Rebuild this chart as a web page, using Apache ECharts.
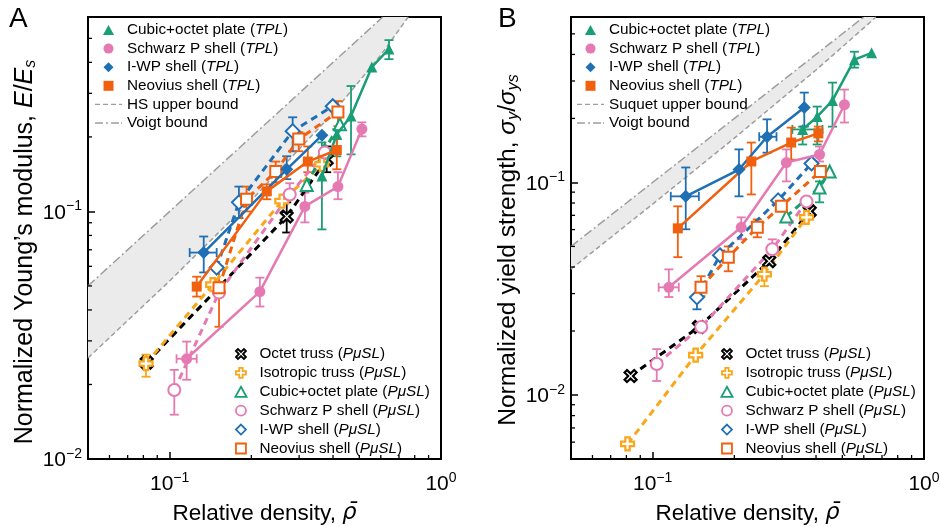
<!DOCTYPE html>
<html><head><meta charset="utf-8">
<script src="https://cdn.jsdelivr.net/npm/echarts@6/dist/echarts.min.js"></script>
<style>html,body{margin:0;padding:0;background:#fff}#c{width:940px;height:527px}</style>
</head><body><div id="c"></div>
<script>
// ---------- Panel A: normalized Young's modulus ----------
// TPL (filled, solid lines)  [relative density, E/Es]
const aCubicT = [[0.364,0.139],[0.413,0.205],[0.466,0.243],[0.556,0.383],[0.643,0.453]];
const aSchT   = [[0.1155,0.0254],[0.215,0.0474],[0.315,0.1048],[0.417,0.126],[0.511,0.215]];
const aIwpT   = [[0.1335,0.0682],[0.270,0.148],[0.364,0.203]];
const aNeoT   = [[0.1258,0.0497],[0.228,0.1205],[0.323,0.159],[0.413,0.177]];
// PuSL (hollow, dashed lines)
const aOctetP = [[0.0823,0.0245],[0.270,0.0954],[0.379,0.162]];
const aIsoP   = [[0.0818,0.0243],[0.144,0.0506],[0.259,0.110],[0.364,0.155]];
const aCubicP = [[0.320,0.128],[0.373,0.178],[0.424,0.225]];
const aSchP   = [[0.104,0.0190],[0.152,0.047],[0.277,0.117],[0.373,0.173]];
const aIwpP   = [[0.149,0.0593],[0.180,0.1088],[0.284,0.211],[0.399,0.266]];
const aNeoP   = [[0.152,0.0492],[0.192,0.112],[0.246,0.145],[0.299,0.196],[0.417,0.252]];
// error bars [x, y, yLow, yHigh, xLow, xHigh] (0 = none)
const aCubicTErr = [[0.364,0.139,0.0846,0.19,0,0],[0.413,0.205,0.167,0.215,0,0],[0.466,0.243,0.170,0.321,0,0],[0.643,0.453,0.412,0.492,0,0]];
const aSchTErr = [[0.1155,0.0254,0.0209,0.0298,0.106,0.1258],[0.215,0.0474,0.0413,0.054,0,0],[0.315,0.1048,0.0903,0.119,0,0],[0.417,0.126,0.112,0.144,0,0],[0.511,0.215,0.201,0.229,0,0]];
const aIwpTErr = [[0.1335,0.0682,0.0567,0.0792,0.1185,0.149],[0.270,0.148,0.135,0.167,0,0]];
const aNeoTErr = [[0.1258,0.0497,0.0453,0.0545,0,0],[0.228,0.1205,0.112,0.1286,0,0],[0.323,0.159,0.144,0.183,0,0],[0.413,0.177,0.148,0.196,0,0]];
const aOctetPErr = [[0.270,0.0954,0.0822,0.1088,0,0],[0.379,0.162,0.144,0.183,0,0]];
const aIsoPErr = [[0.0818,0.0243,0.0215,0.0264,0,0]];
const aSchPErr = [[0.104,0.0190,0.0151,0.0229,0,0],[0.277,0.117,0.112,0.130,0,0]];
const aIwpPErr = [[0.180,0.1088,0.094,0.126,0,0],[0.284,0.211,0.175,0.240,0,0]];
const aNeoPErr = [[0.152,0.0492,0.0342,0.06,0,0],[0.192,0.112,0.1,0.126,0,0],[0.246,0.145,0.131,0.159,0,0],[0.299,0.196,0.175,0.209,0,0],[0.417,0.252,0.221,0.279,0,0]];
// bounds
const aVoigt = [[0.05,0.05],[0.61,0.61]];
const aHS = [[0.05,0.0256],[0.1,0.0524],[0.2,0.111],[0.4,0.250],[0.6,0.428],[0.757,0.61]];

// ---------- Panel B: normalized yield strength ----------
const bCubicT = [[0.357,0.1775],[0.404,0.204],[0.460,0.243],[0.554,0.378],[0.641,0.407]];
const bSchT   = [[0.1147,0.0321],[0.212,0.0615],[0.311,0.124],[0.412,0.1353],[0.509,0.232]];
const bIwpT   = [[0.1324,0.086],[0.208,0.115],[0.264,0.164],[0.362,0.225]];
const bNeoT   = [[0.1238,0.0608],[0.231,0.1255],[0.324,0.154],[0.408,0.170]];
const bOctetP = [[0.0829,0.01228],[0.148,0.0209],[0.269,0.0426],[0.379,0.0731]];
const bIsoP   = [[0.0808,0.00589],[0.144,0.0154],[0.258,0.0370],[0.369,0.0685]];
const bCubicP = [[0.311,0.0692],[0.412,0.0947],[0.449,0.1126]];
const bSchP   = [[0.1035,0.0140],[0.151,0.0209],[0.276,0.0485],[0.369,0.0814]];
const bIwpP   = [[0.1456,0.0288],[0.177,0.0454],[0.290,0.0823],[0.385,0.1228]];
const bNeoP   = [[0.1507,0.0321],[0.190,0.0445],[0.243,0.0615],[0.298,0.0772],[0.415,0.1126]];
const bCubicTErr = [[0.357,0.1775,0.1508,0.183,0.3272,0.4227],[0.404,0.204,0.1508,0.2274,0,0],[0.460,0.243,0.183,0.2948,0,0],[0.554,0.378,0.3467,0.412,0,0]];
const bSchTErr = [[0.1147,0.0321,0.0289,0.039,0.1052,0.1248],[0.212,0.0615,0.054,0.0685,0,0],[0.311,0.124,0.1011,0.143,0,0],[0.412,0.1353,0.1255,0.1476,0,0],[0.509,0.232,0.1913,0.2733,0,0]];
const bIwpTErr = [[0.1324,0.086,0.0602,0.1176,0.1166,0.148],[0.208,0.115,0.086,0.143,0,0],[0.264,0.164,0.138,0.198,0.247,0.286],[0.362,0.225,0.183,0.2646,0,0]];
const bNeoTErr = [[0.1238,0.0608,0.0445,0.0772,0,0],[0.231,0.1255,0.0878,0.154,0,0],[0.324,0.154,0.128,0.181,0,0],[0.408,0.17,0.156,0.183,0,0]];
const bIsoPErr = [[0.258,0.037,0.0325,0.039,0,0]];
const bCubicPErr = [[0.412,0.0947,0.0806,0.1011,0,0]];
const bSchPErr = [[0.1035,0.014,0.01164,0.01644,0,0],[0.276,0.0485,0.0469,0.054,0,0]];
const bIwpPErr = [[0.1456,0.0288,0.0253,0.0288,0,0]];
const bNeoPErr = [[0.1507,0.0321,0.0292,0.0362,0,0],[0.190,0.0445,0.0382,0.05,0,0],[0.243,0.0615,0.0552,0.067,0,0]];
const bVoigt = [[0.05,0.05],[0.6,0.6]];
const bSuquet = [[0.05,0.0391],[0.1,0.0791],[0.2,0.1615],[0.4,0.338],[0.6,0.533],[0.665,0.6]];

// tick positions
const xMinorTicks = [0.06,0.07,0.08,0.09,0.2,0.3,0.4,0.5,0.6,0.7,0.8,0.9];
const aYMinorTicks = [0.02,0.03,0.04,0.05,0.06,0.07,0.08,0.09,0.2,0.3,0.4,0.5];
const bYMinorTicks = [0.006,0.007,0.008,0.009,0.02,0.03,0.04,0.05,0.06,0.07,0.08,0.09,0.2,0.3,0.4,0.5];

// legend names
const nCubicT='Cubic+octet plate (TPL)', nSchT='Schwarz P shell (TPL)', nIwpT='I-WP shell (TPL)', nNeoT='Neovius shell (TPL)';
const nOctetP='Octet truss (P\u03bcSL)', nIsoP='Isotropic truss (P\u03bcSL)', nCubicP='Cubic+octet plate (P\u03bcSL)', nSchP='Schwarz P shell (P\u03bcSL)', nIwpP='I-WP shell (P\u03bcSL)', nNeoP='Neovius shell (P\u03bcSL)';

const FONT = "'Liberation Sans', Arial, Helvetica, sans-serif";
const C = {green:'#1a9e76', pink:'#e57ab3', blue:'#1f6fb4', orange:'#f0600f', yellow:'#f9a61a', black:'#000000', bound:'#9e9e9e'};
const XPATH = 'path://M0,2L2,0L5,3L8,0L10,2L7,5L10,8L8,10L5,7L2,10L0,8L3,5Z';
const PPATH = 'path://M3.3,0L6.7,0L6.7,3.3L10,3.3L10,6.7L6.7,6.7L6.7,10L3.3,10L3.3,6.7L0,6.7L0,3.3L3.3,3.3Z';
const ICON = {
  triangle:'path://M5,0L10,9L0,9Z',
  circle:'path://M5,0A5,5,0,1,1,5,10A5,5,0,1,1,5,0Z',
  diamond:'path://M5,0L10,5L5,10L0,5Z',
  rect:'path://M0,0L10,0L10,10L0,10Z',
  dash:'path://M0,0L5,0L5,1.4L0,1.4Z M8,0L13,0L13,1.4L8,1.4Z M16,0L21,0L21,1.4L16,1.4Z M24,0L27,0L27,1.4L24,1.4Z',
  dashdot:'path://M0,0L8,0L8,1.4L0,1.4Z M11,0L13,0L13,1.4L11,1.4Z M16,0L24,0L24,1.4L16,1.4Z M26,0L27,0L27,1.4L26,1.4Z'
};

const styles = {};
styles[nCubicT] = {c:C.green, sym:'triangle', icon:ICON.triangle, size:11, hollow:false};
styles[nSchT]   = {c:C.pink, sym:'circle', icon:ICON.circle, size:11, hollow:false};
styles[nIwpT]   = {c:C.blue, sym:'diamond', icon:ICON.diamond, size:13, hollow:false};
styles[nNeoT]   = {c:C.orange, sym:'rect', icon:ICON.rect, size:10, hollow:false};
styles[nOctetP] = {c:C.black, sym:XPATH, icon:XPATH, size:12, hollow:true, path:true};
styles[nIsoP]   = {c:C.yellow, sym:PPATH, icon:PPATH, size:13, hollow:true, path:true};
styles[nCubicP] = {c:C.green, sym:'emptyTriangle', icon:ICON.triangle, size:12, hollow:true};
styles[nSchP]   = {c:C.pink, sym:'emptyCircle', icon:ICON.circle, size:12, hollow:true};
styles[nIwpP]   = {c:C.blue, sym:'emptyDiamond', icon:ICON.diamond, size:14, hollow:true};
styles[nNeoP]   = {c:C.orange, sym:'emptyRect', icon:ICON.rect, size:11, hollow:true};

function dataSeries(name, data, gi) {
  const s = styles[name];
  return {
    type:'line', name, xAxisIndex:gi, yAxisIndex:gi, data,
    symbol:s.sym, symbolSize:s.size, showSymbol:true, symbolKeepAspect:true,
    lineStyle:{color:s.c, width: s.hollow ? 3 : 2.5, type: s.hollow ? [7,5] : 'solid'},
    itemStyle: s.path ? {color:'#ffffff', borderColor:s.c, borderWidth:2.2} : (s.hollow ? {color:s.c, borderWidth:2.2} : {color:s.c}),
    emphasis:{disabled:true}, z: s.hollow ? 4 : 5, animation:false
  };
}
function errSeries(rows, gi, color) {
  return {
    type:'custom', xAxisIndex:gi, yAxisIndex:gi, data:rows, encode:{x:0,y:1}, silent:true, z:3,
    renderItem(p, api) {
      const x=api.value(0), y=api.value(1), yl=api.value(2), yh=api.value(3), xl=api.value(4), xh=api.value(5);
      const st = {stroke:color, lineWidth:1.8};
      const ch = []; const cap = 4.5;
      if (yl > 0 && yh > 0) {
        const a = api.coord([x,yl]), b = api.coord([x,yh]);
        ch.push({type:'line', shape:{x1:a[0],y1:a[1],x2:b[0],y2:b[1]}, style:st});
        ch.push({type:'line', shape:{x1:a[0]-cap,y1:a[1],x2:a[0]+cap,y2:a[1]}, style:st});
        ch.push({type:'line', shape:{x1:b[0]-cap,y1:b[1],x2:b[0]+cap,y2:b[1]}, style:st});
      }
      if (xl > 0 && xh > 0) {
        const a = api.coord([xl,y]), b = api.coord([xh,y]);
        ch.push({type:'line', shape:{x1:a[0],y1:a[1],x2:b[0],y2:b[1]}, style:st});
        ch.push({type:'line', shape:{x1:a[0],y1:a[1]-cap,x2:a[0],y2:a[1]+cap}, style:st});
        ch.push({type:'line', shape:{x1:b[0],y1:b[1]-cap,x2:b[0],y2:b[1]+cap}, style:st});
      }
      return {type:'group', children:ch};
    }
  };
}
function boundLine(name, data, gi, dash) {
  return {type:'line', name, xAxisIndex:gi, yAxisIndex:gi, data, symbol:'none', silent:true,
    lineStyle:{color:C.bound, width:1.5, type:dash}, itemStyle:{color:C.bound}, z:2, animation:false};
}
function bandSeries(gi, upper, lower) {
  return {type:'custom', xAxisIndex:gi, yAxisIndex:gi, data:[[0.1,0.1]], encode:{x:0,y:1}, silent:true, z:1,
    renderItem(p, api) {
      const pts = upper.map(d => api.coord(d)).concat(lower.slice().reverse().map(d => api.coord(d)));
      return {type:'polygon', shape:{points:pts}, style:{fill:'#ebebeb'}};
    }};
}
function tickSeries(gi, xs, ys, x0, y0) {
  return {type:'custom', xAxisIndex:gi, yAxisIndex:gi, data:[[0.1,0.1]], encode:{x:0,y:1}, silent:true, z:20,
    renderItem(p, api) {
      const ch = []; const st = {stroke:'#000', lineWidth:1.3};
      xs.forEach(v => { const pt = api.coord([v,y0]); ch.push({type:'line', shape:{x1:pt[0],y1:pt[1],x2:pt[0],y2:pt[1]-4}, style:st}); });
      ys.forEach(v => { const pt = api.coord([x0,v]); ch.push({type:'line', shape:{x1:pt[0],y1:pt[1],x2:pt[0]+4,y2:pt[1]}, style:st}); });
      return {type:'group', children:ch};
    }};
}
function powLabel(v) {
  const e = Math.round(Math.log10(v));
  if (Math.abs(v / Math.pow(10, e) - 1) > 1e-6) return '';
  return '{b|10}{s|' + (e < 0 ? '\u2212' + (-e) : String(e)) + '}';
}
const tickRich = {
  b:{fontSize:21, fontFamily:FONT, color:'#000', lineHeight:24, verticalAlign:'bottom'},
  s:{fontSize:14, fontFamily:FONT, color:'#000', lineHeight:8, verticalAlign:'top'}
};
function xAxisDef(gi) {
  return {type:'log', logBase:10, gridIndex:gi, min:0.05, max:1,
    axisLine:{show:true, onZero:false, lineStyle:{color:'#000', width:2}},
    axisTick:{show:true, inside:true, length:7, lineStyle:{color:'#000', width:1.5}},
    minorTick:{show:false}, splitLine:{show:false},
    axisLabel:{formatter:powLabel, rich:tickRich, margin:12, showMinLabel:true, showMaxLabel:true, hideOverlap:false},
    name:'{n|Relative density, }{i|\u03c1\u0304}', nameLocation:'middle', nameGap:43,
    nameTextStyle:{rich:{n:{fontSize:22.5, fontFamily:FONT, color:'#000'}, i:{fontSize:22.5, fontFamily:"'DejaVu Sans', sans-serif", fontStyle:'italic', color:'#000'}}}
  };
}
function yAxisDef(gi, min, max, name, gap, fs, shift) {
  return {type:'log', logBase:10, gridIndex:gi, min, max,
    axisLine:{show:true, onZero:false, lineStyle:{color:'#000', width:2}},
    axisTick:{show:true, inside:true, length:7, lineStyle:{color:'#000', width:1.5}},
    minorTick:{show:false}, splitLine:{show:false},
    axisLabel:{formatter:powLabel, rich:tickRich, margin:6, showMinLabel:true, showMaxLabel:true, hideOverlap:false},
    name, nameLocation:'middle', nameGap:gap, nameRotate:90,
    nameTextStyle:{padding:[0, shift, 0, 0], rich:{
      n:{fontSize:fs, fontFamily:FONT, color:'#000', lineHeight:28, verticalAlign:'middle'},
      i:{fontSize:fs, fontFamily:FONT, fontStyle:'italic', color:'#000', lineHeight:28, verticalAlign:'middle'},
      sub:{fontSize:16, fontFamily:FONT, fontStyle:'italic', color:'#000', lineHeight:14, verticalAlign:'bottom'}
    }}
  };
}
function legendItem(name) {
  const s = styles[name];
  if (s.hollow) return {name, icon:s.icon, itemStyle:{color:'#ffffff', borderColor:s.c, borderWidth:1.8}};
  return {name, icon:s.icon, itemStyle:{color:s.c, borderWidth:0}};
}
function legendDef(left, top, items, gap) {
  return {show:true, orient:'vertical', left, top, itemWidth:27, itemHeight:10, itemGap:gap, selectedMode:false, padding:0,
    symbolKeepAspect:true,
    data:items, textStyle:{fontSize:15.3, fontFamily:FONT, color:'#000', lineHeight:16,
      rich:{n:{fontSize:15.3, fontFamily:FONT, color:'#000'}, i:{fontSize:15.3, fontFamily:FONT, fontStyle:'italic', color:'#000'}}},
    formatter(name) {
      const m = name.match(/^(.*\()(.*)(\))$/);
      if (m) return '{n|' + m[1] + '}{i|' + m[2] + '}{n|)}';
      return '{n|' + name + '}';
    }};
}
const boundItems = (hsName) => [
  {name:hsName, icon:ICON.dash, itemStyle:{color:C.bound, borderWidth:0}},
  {name:'Voigt bound', icon:ICON.dashdot, itemStyle:{color:C.bound, borderWidth:0}}
];

const series = [
  bandSeries(0, aVoigt, aHS), bandSeries(1, bVoigt, bSuquet),
  boundLine('HS upper bound', aHS, 0, [5,3]), boundLine('Voigt bound', aVoigt, 0, [9,3,2,3]),
  boundLine('Suquet upper bound', bSuquet, 1, [5,3]), boundLine('Voigt bound', bVoigt, 1, [9,3,2,3]),
  tickSeries(0, xMinorTicks, aYMinorTicks, 0.05, 0.01), tickSeries(1, xMinorTicks, bYMinorTicks, 0.05, 0.005)
];
const panelA = [[nOctetP,aOctetP,aOctetPErr],[nIsoP,aIsoP,aIsoPErr],[nCubicP,aCubicP,null],[nSchP,aSchP,aSchPErr],[nIwpP,aIwpP,aIwpPErr],[nNeoP,aNeoP,aNeoPErr],
  [nCubicT,aCubicT,aCubicTErr],[nSchT,aSchT,aSchTErr],[nIwpT,aIwpT,aIwpTErr],[nNeoT,aNeoT,aNeoTErr]];
const panelB = [[nOctetP,bOctetP,null],[nIsoP,bIsoP,bIsoPErr],[nCubicP,bCubicP,bCubicPErr],[nSchP,bSchP,bSchPErr],[nIwpP,bIwpP,bIwpPErr],[nNeoP,bNeoP,bNeoPErr],
  [nCubicT,bCubicT,bCubicTErr],[nSchT,bSchT,bSchTErr],[nIwpT,bIwpT,bIwpTErr],[nNeoT,bNeoT,bNeoTErr]];
[[panelA,0],[panelB,1]].forEach(([list, gi]) => {
  list.forEach(([name, data, err]) => {
    if (err) series.push(errSeries(err, gi, styles[name].c));
    series.push(dataSeries(name, data, gi));
  });
});

const tplItems = [nCubicT,nSchT,nIwpT,nNeoT].map(legendItem);
const pItems = [nOctetP,nIsoP,nCubicP,nSchP,nIwpP,nNeoP].map(legendItem);

const option = {
  animation:false,
  backgroundColor:'#ffffff',
  textStyle:{fontFamily:FONT},
  grid:[
    {left:88, top:17, width:353, height:442, show:true, borderColor:'#000', borderWidth:2, backgroundColor:'transparent', containLabel:false, outerBoundsMode:'none'},
    {left:571, top:17, width:353, height:442, show:true, borderColor:'#000', borderWidth:2, backgroundColor:'transparent', containLabel:false, outerBoundsMode:'none'}
  ],
  xAxis:[xAxisDef(0), xAxisDef(1)],
  yAxis:[
    yAxisDef(0, 0.01, 0.61, '{n|Normalized Young\u2019s modulus, }{i|E}{n|/}{i|E}{sub|s}', 40, 25, 28),
    yAxisDef(1, 0.005, 0.6, '{n|Normalized yield strength, }{i|\u03c3}{sub|y}{n|/}{i|\u03c3}{sub|ys}', 41, 24.6, 24)
  ],
  legend:[
    legendDef(95, 22, tplItems.concat(boundItems('HS upper bound')), 2.6),
    legendDef(234.5, 346, pItems, 2.9),
    legendDef(577, 22, tplItems.concat(boundItems('Suquet upper bound')), 2.6),
    legendDef(720.5, 346, pItems, 2.9)
  ],
  graphic:[
    {type:'text', left:9, top:5, style:{text:'A', font:"28px 'Liberation Sans', Arial, sans-serif", fill:'#000'}},
    {type:'text', left:498, top:5, style:{text:'B', font:"28px 'Liberation Sans', Arial, sans-serif", fill:'#000'}}
  ],
  series
};
const chart = echarts.init(document.getElementById('c'), null, {renderer:'canvas'});
chart.setOption(option);
</script></body></html>
